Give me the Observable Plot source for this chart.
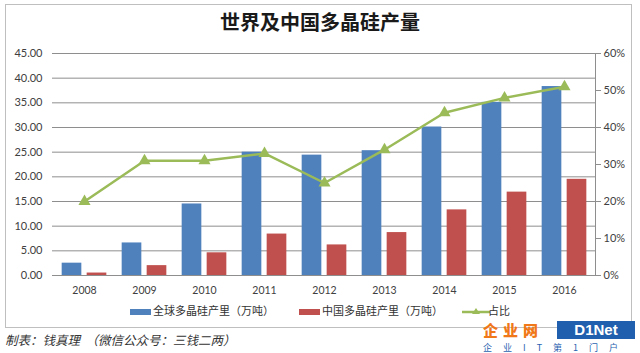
<!DOCTYPE html>
<html>
<head>
<meta charset="utf-8">
<script src="https://cdn.jsdelivr.net/npm/d3@7"></script>
<script src="https://cdn.jsdelivr.net/npm/@observablehq/plot@0.6"></script>
<style>
  html, body { margin: 0; padding: 0; background: #fff; }
  body { width: 640px; height: 353px; position: relative; overflow: hidden; font-family: "Noto Sans CJK SC", sans-serif; }
  .box { position: absolute; left: 5px; top: 4px; width: 627px; height: 324px; border: 1px solid #bfbfbf; box-sizing: border-box; }
  .title { position: absolute; left: 0; width: 640px; top: 8px; text-align: center; font-size: 20px; font-weight: bold; color: #1a1a1a; line-height: 28px; }
  #chart { position: absolute; left: 0; top: 40px; }
  .legend { position: absolute; top: 303px; font-size: 11px; color: #333; line-height: 15px; white-space: nowrap; }
  .sw { position: absolute; width: 21px; height: 6px; top: 6px; }
  .footer { position: absolute; left: 5px; top: 331px; font-size: 12.5px; font-style: italic; color: #333; line-height: 18px; white-space: nowrap; }
  .wm1 { position: absolute; left: 483px; top: 321px; font-size: 15px; font-weight: 900; color: #f07818; line-height: 18px; height: 18px; letter-spacing: 5px; }
  .wm2 { position: absolute; left: 557px; top: 321px; width: 78px; height: 18px; background: #1f5fae; color: #fff; font-family: "Liberation Sans", sans-serif; font-weight: bold; font-size: 15px; line-height: 18px; text-align: center; }
  .wm3 { position: absolute; left: 483px; top: 341px; font-size: 9px; color: #2b63b0; letter-spacing: 11px; line-height: 13px; white-space: nowrap; }
</style>
</head>
<body>
<div class="box"></div>
<div class="title">世界及中国多晶硅产量</div>
<div id="chart"></div>
<div class="legend" style="left:0;width:640px;height:16px;">
  <span class="sw" style="left:130px;background:#4F81BD;"></span>
  <span style="position:absolute;left:153px;">全球多晶硅产里（万吨）</span>
  <span class="sw" style="left:299px;background:#C0504D;"></span>
  <span style="position:absolute;left:322px;">中国多晶硅产里（万吨）</span>
  <svg style="position:absolute;left:462px;top:2px;" width="28" height="14"><line x1="0" y1="7" x2="28" y2="7" stroke="#9BBB59" stroke-width="2.5"/><path d="M14,3 L18,9 L10,9 Z" fill="#9BBB59"/></svg>
  <span style="position:absolute;left:488px;">占比</span>
</div>
<div class="footer">制表：钱真理&nbsp;&nbsp;（微信公众号：三钱二两）</div>
<div class="wm1">企业网</div>
<div class="wm2">D1Net</div>
<div class="wm3">企业IT第1门户</div>
<script>
const years = [2008, 2009, 2010, 2011, 2012, 2013, 2014, 2015, 2016];
const globalOutput = [2.5, 6.6, 14.5, 25.0, 24.4, 25.3, 30.1, 35.1, 38.3];
const chinaOutput = [0.5, 2.0, 4.6, 8.4, 6.2, 8.7, 13.3, 16.9, 19.5];
const sharePercent = [20, 31, 31, 33, 25, 34, 44, 48, 51];
const leftTicks = [0, 5, 10, 15, 20, 25, 30, 35, 40, 45];
const rightTicks = [0, 10, 20, 30, 40, 50, 60];

const leftMax = 45, rightMax = 60;
const toLeft = p => p * leftMax / rightMax;

const data = years.map((year, i) => ({
  year,
  global: globalOutput[i],
  china: chinaOutput[i],
  share: sharePercent[i]
}));

const bw = 20, inset = (543 / years.length - bw) / 2;

const chart = Plot.plot({
  width: 640,
  height: 265,
  marginLeft: 52,
  marginRight: 45,
  marginTop: 13,
  marginBottom: 30,
  style: { fontFamily: "Lato, 'Liberation Sans', sans-serif", fontSize: "11px", color: "#404040", background: "transparent" },
  x: { type: "band", domain: years, padding: 0, axis: null, label: null },
  y: { domain: [0, leftMax], axis: null, label: null },
  marks: [
    Plot.ruleY(leftTicks.slice(1), { stroke: "#8e8e8e", strokeWidth: 1 }),
    Plot.axisY(leftTicks, { anchor: "left", tickSize: 0, tickPadding: 10, tickFormat: d => d.toFixed(2), label: null }),
    Plot.axisY(rightTicks.map(toLeft), { anchor: "right", tickSize: 5, tickPadding: 3, stroke: "#8e8e8e", tickFormat: d => Math.round(d * rightMax / leftMax) + "%", label: null }),
    Plot.frame({ anchor: "right", stroke: "#8e8e8e" }),
    Plot.barY(data, { x: "year", y: "global", fill: "#4F81BD", insetLeft: inset, insetRight: inset, dx: -12.5 }),
    Plot.barY(data, { x: "year", y: "china", fill: "#C0504D", insetLeft: inset, insetRight: inset, dx: 12.5 }),
    Plot.ruleY([0], { stroke: "#8e8e8e" }),
    Plot.axisX({ tickSize: 0, tickPadding: 11, label: null, fontSize: 10.5, tickFormat: d => String(d) }),
    Plot.line(data, { x: "year", y: d => toLeft(d.share), stroke: "#9BBB59", strokeWidth: 2.5 }),
    Plot.dot(data, { x: "year", y: d => toLeft(d.share), symbol: "triangle", r: 4.5, fill: "#9BBB59", stroke: "none" })
  ]
});
document.getElementById("chart").appendChild(chart);
</script>
</body>
</html>
